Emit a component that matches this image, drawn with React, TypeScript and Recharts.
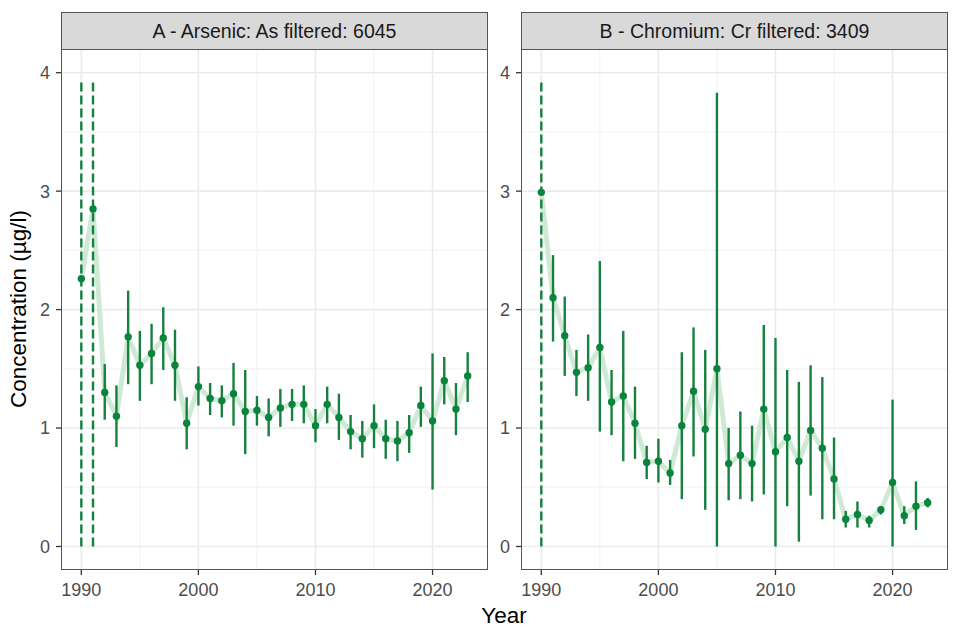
import React from 'react';
import { ComposedChart, Line, Scatter, ErrorBar, XAxis, YAxis, CartesianGrid } from 'recharts';

const years = [1990, 1991, 1992, 1993, 1994, 1995, 1996, 1997, 1998, 1999, 2000, 2001, 2002, 2003, 2004, 2005, 2006, 2007, 2008, 2009, 2010, 2011, 2012, 2013, 2014, 2015, 2016, 2017, 2018, 2019, 2020, 2021, 2022, 2023];

const arsenicMean = [2.26, 2.85, 1.30, 1.10, 1.77, 1.53, 1.63, 1.76, 1.53, 1.04, 1.35, 1.25, 1.23, 1.29, 1.14, 1.15, 1.09, 1.17, 1.20, 1.20, 1.02, 1.20, 1.09, 0.97, 0.91, 1.02, 0.91, 0.89, 0.96, 1.19, 1.06, 1.40, 1.16, 1.44];
const arsenicLow = [0, 0, 1.07, 0.84, 1.37, 1.23, 1.37, 1.49, 1.23, 0.82, 1.19, 1.11, 1.09, 1.02, 0.78, 1.02, 0.93, 1.01, 1.06, 1.04, 0.88, 1.04, 0.90, 0.82, 0.75, 0.83, 0.74, 0.72, 0.79, 1.01, 0.48, 1.20, 0.94, 1.22];
const arsenicHigh = [3.92, 3.92, 1.54, 1.36, 2.16, 1.82, 1.88, 2.02, 1.83, 1.26, 1.52, 1.38, 1.36, 1.55, 1.49, 1.27, 1.25, 1.33, 1.33, 1.36, 1.16, 1.35, 1.29, 1.11, 1.06, 1.20, 1.07, 1.06, 1.11, 1.35, 1.63, 1.60, 1.38, 1.64];
const arsenicDashedYears = [1990, 1991];

const chromiumMean = [2.99, 2.10, 1.78, 1.47, 1.51, 1.68, 1.22, 1.27, 1.04, 0.71, 0.72, 0.62, 1.02, 1.31, 0.99, 1.50, 0.70, 0.77, 0.70, 1.16, 0.80, 0.92, 0.72, 0.98, 0.83, 0.57, 0.23, 0.27, 0.22, 0.31, 0.54, 0.26, 0.34, 0.37];
const chromiumLow = [0, 1.73, 1.44, 1.27, 1.23, 0.97, 0.94, 0.72, 0.74, 0.57, 0.54, 0.52, 0.40, 0.76, 0.31, 0.0, 0.39, 0.40, 0.38, 0.44, 0.0, 0.34, 0.04, 0.43, 0.23, 0.23, 0.16, 0.16, 0.16, 0.27, 0.0, 0.19, 0.14, 0.33];
const chromiumHigh = [3.93, 2.46, 2.11, 1.66, 1.79, 2.41, 1.49, 1.82, 1.35, 0.85, 0.91, 0.73, 1.64, 1.85, 1.66, 3.83, 1.00, 1.14, 1.02, 1.87, 1.76, 1.49, 1.39, 1.53, 1.43, 0.92, 0.30, 0.38, 0.26, 0.34, 1.24, 0.34, 0.55, 0.41];
const chromiumDashedYears = [1990];

const xTicks = [1990, 2000, 2010, 2020];
const xMinor = [1995, 2005, 2015];
const yTicks = [0, 1, 2, 3, 4];
const yMinor = [0.5, 1.5, 2.5, 3.5];

const panelATitle = 'A - Arsenic: As filtered: 6045';
const panelBTitle = 'B - Chromium: Cr filtered: 3409';

const FONT = '"Liberation Sans", Arial, Helvetica, sans-serif';
const GREEN = '#0a843c';
const BAR_GREEN = '#17803f';
const LIGHT = '#c9e7cf';

type Row = { year: number; v: number; err: [number, number] };

function buildRows(mean: number[], low: number[], high: number[]): Row[] {
  return years.map((year, i) => ({
    year,
    v: mean[i],
    err: [mean[i] - low[i], high[i] - mean[i]] as [number, number],
  }));
}

const Dot = (props: any) => {
  if (props.cx == null || props.cy == null) return null;
  return <circle cx={props.cx} cy={props.cy} r={3.7} fill={GREEN} />;
};

const CHART_W = 489;
const CHART_H = 640;
const PLOT_L = 62;
const PLOT_T = 49;
const PLOT_W = 425;
const PLOT_H = 520;

function Panel({ left, title, mean, low, high, dashedYears }: { left: number; title: string; mean: number[]; low: number[]; high: number[]; dashedYears: number[] }) {
  const rows = buildRows(mean, low, high);
  const solid = rows.filter((r) => !dashedYears.includes(r.year));
  const dashed = rows.filter((r) => dashedYears.includes(r.year));
  return (
    <>
      <div style={{ position: 'absolute', left, top: 0 }}>
        <ComposedChart width={CHART_W} height={CHART_H} data={rows} margin={{ top: PLOT_T, right: CHART_W - PLOT_L - PLOT_W, bottom: 0, left: 0 }}>
          <CartesianGrid horizontalValues={yMinor} verticalValues={xMinor} stroke="#F0F0F0" strokeWidth={0.9} />
          <CartesianGrid horizontalValues={yTicks} verticalValues={xTicks} stroke="#EBEBEB" strokeWidth={1.6} />
          <XAxis
            dataKey="year"
            type="number"
            domain={[1988.35, 2024.65]}
            ticks={xTicks}
            allowDataOverflow
            height={CHART_H - PLOT_T - PLOT_H}
            axisLine={false}
            tickLine={{ stroke: '#333333', strokeWidth: 1.3 }}
            tickSize={6}
            tickMargin={8}
            tick={{ fill: '#4D4D4D', fontSize: 18, fontFamily: FONT }}
          />
          <YAxis
            type="number"
            domain={[-0.19, 4.2]}
            ticks={yTicks}
            allowDataOverflow
            width={PLOT_L}
            axisLine={false}
            tickLine={{ stroke: '#333333', strokeWidth: 1.3 }}
            tickSize={6}
            tickMargin={6}
            tick={{ fill: '#4D4D4D', fontSize: 18, fontFamily: FONT }}
          />
          <Line dataKey="v" type="linear" stroke={LIGHT} strokeWidth={5} strokeOpacity={0.9} dot={false} activeDot={false} isAnimationActive={false} />
          <Scatter data={dashed} dataKey="v" shape={Dot} isAnimationActive={false}>
            <ErrorBar dataKey="err" direction="y" width={0} stroke={BAR_GREEN} strokeWidth={2.4} strokeDasharray="9 4" />
          </Scatter>
          <Scatter data={solid} dataKey="v" shape={Dot} isAnimationActive={false}>
            <ErrorBar dataKey="err" direction="y" width={0} stroke={BAR_GREEN} strokeWidth={2.4} />
          </Scatter>
        </ComposedChart>
      </div>
      <div
        style={{
          position: 'absolute',
          left: left + PLOT_L - 0.6,
          top: PLOT_T - 0.6,
          width: PLOT_W + 1.2,
          height: PLOT_H + 1.2,
          border: '1.3px solid #555555',
          boxSizing: 'border-box',
          pointerEvents: 'none',
        }}
      />
      <div
        style={{
          position: 'absolute',
          left: left + PLOT_L - 0.6,
          top: 12,
          width: PLOT_W + 1.2,
          height: PLOT_T - 12 + 0.8,
          background: '#D9D9D9',
          border: '1.3px solid #555555',
          boxSizing: 'border-box',
          display: 'flex',
          alignItems: 'center',
          justifyContent: 'center',
          fontSize: 19.5,
          fontFamily: FONT,
          color: '#1A1A1A',
          paddingTop: 2,
        }}
      >
        {title}
      </div>
    </>
  );
}

export default function App() {
  return (
    <div style={{ position: 'absolute', left: 0, top: 0, width: 960, height: 640, background: '#FFFFFF', fontFamily: FONT, overflow: 'hidden' }}>
      <Panel left={0} title={panelATitle} mean={arsenicMean} low={arsenicLow} high={arsenicHigh} dashedYears={arsenicDashedYears} />
      <Panel left={460} title={panelBTitle} mean={chromiumMean} low={chromiumLow} high={chromiumHigh} dashedYears={chromiumDashedYears} />
      <div
        style={{
          position: 'absolute',
          left: 19,
          top: 309,
          transform: 'translate(-50%, -50%) rotate(-90deg)',
          fontSize: 22.5,
          lineHeight: 1,
          whiteSpace: 'nowrap',
          color: '#000000',
        }}
      >
        Concentration (µg/l)
      </div>
      <div
        style={{
          position: 'absolute',
          left: 504,
          top: 616,
          transform: 'translate(-50%, -50%)',
          fontSize: 22.5,
          lineHeight: 1,
          whiteSpace: 'nowrap',
          color: '#000000',
        }}
      >
        Year
      </div>
    </div>
  );
}
